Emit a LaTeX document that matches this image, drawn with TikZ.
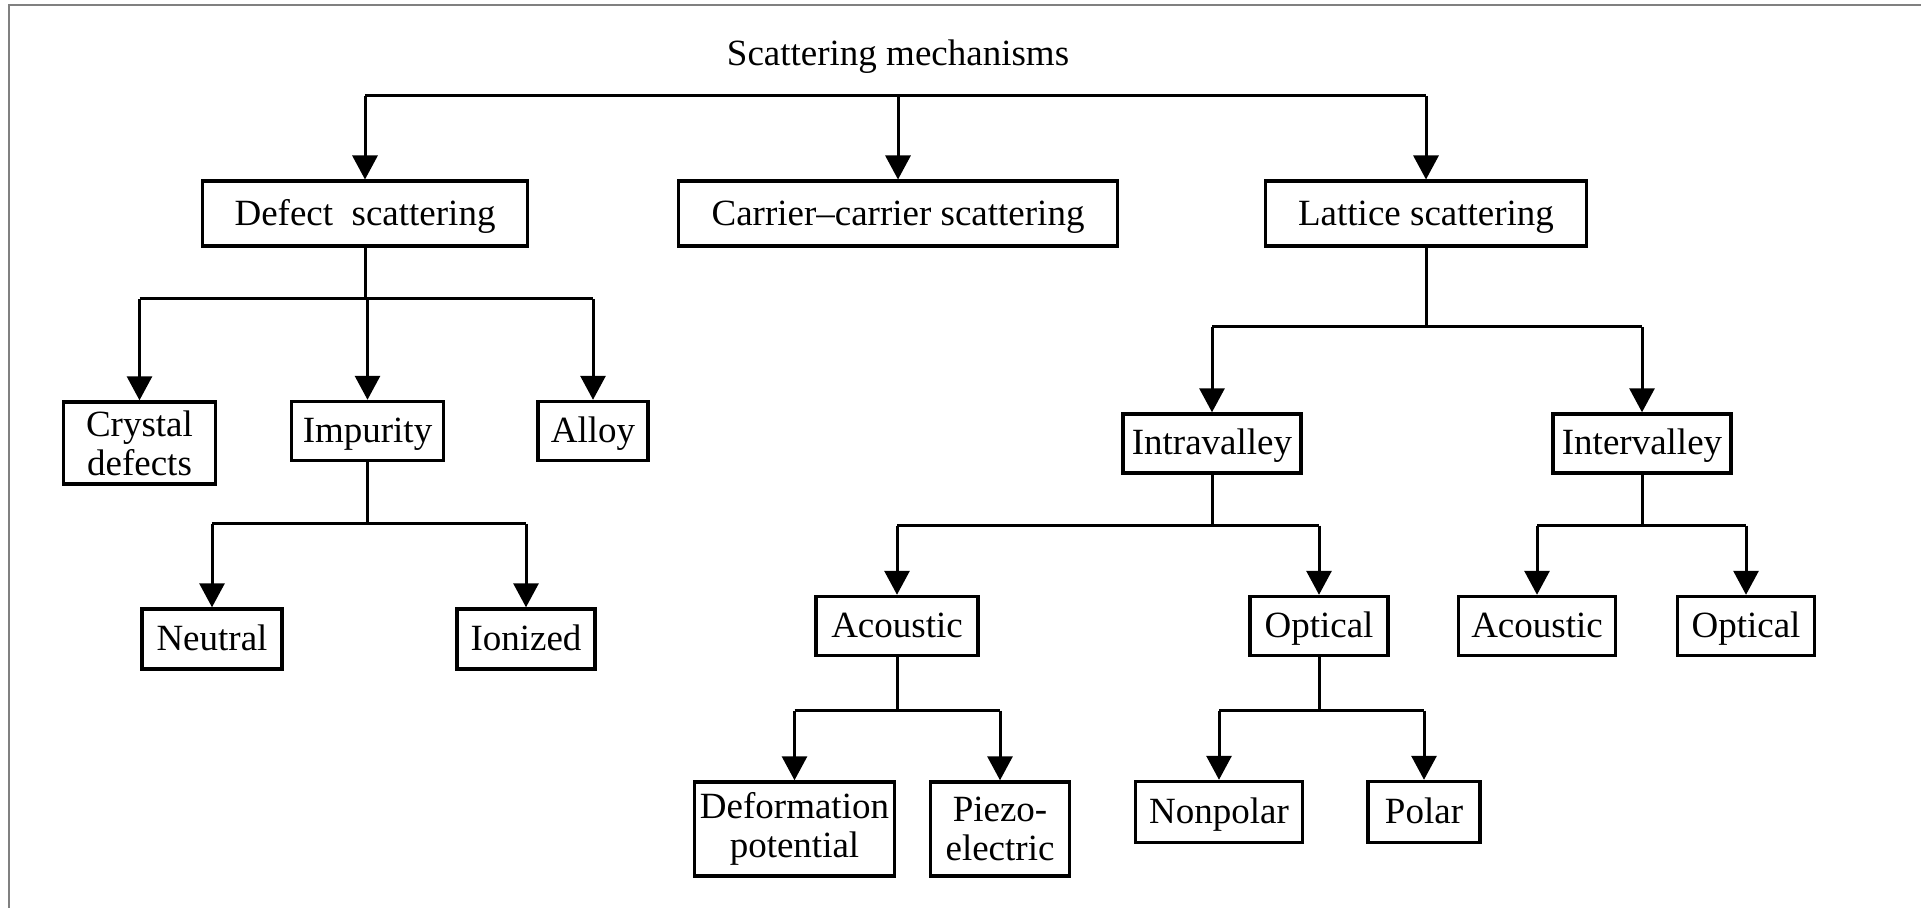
\documentclass[tikz,border=0pt]{standalone}
\usepackage{fontspec}
\setmainfont{Liberation Serif}
\usepackage{tikz}
\usetikzlibrary{arrows.meta}

\begin{document}
\begin{tikzpicture}[x=0.5pt,y=-0.5pt,
		box/.style={draw, line width=1.7pt, inner sep=0pt, align=center, minimum height=29.5pt},
		oneline/.style={box, text height=14.2pt, text depth=2.8pt},
		link/.style={line width=1.5pt},
		arr/.style={link, -{Triangle[length=12pt,width=12.5pt]}},
		font=\fontsize{18.5}{19.5}\selectfont]
			\useasboundingbox (0,0) rectangle (1921,908);
			\draw[gray, line width=1pt] (8.5,908) -- (8.5,5) -- (1921,5);
			
			% top level
			\node (title) at (898,57) {Scattering mechanisms};
			\node[oneline, minimum width=162.5pt, minimum height=32.5pt] (defect) at (365,213.7) {Defect~ scattering};
			\node[oneline, minimum width=219.5pt, minimum height=32.5pt] (carrier) at (898,213.7) {Carrier--carrier scattering};
			\node[oneline, minimum width=160.5pt, minimum height=32.5pt] (lattice) at (1426,213.7) {Lattice scattering};
			
			\draw[link] (defect.north |- 0,96) -- (lattice.north |- 0,96);
			\foreach \n in {defect,carrier,lattice}
				\draw[arr] (\n.north |- 0,96) -- (\n.north);
			
			% defect scattering
			\node[box, minimum width=76pt, minimum height=41pt] (crystal) at (139.5,443) {Crystal\\defects};
			\node[oneline, minimum width=76pt] (impurity) at (367.5,431) {Impurity};
			\node[oneline, minimum width=55pt] (alloy) at (593,431) {Alloy};
			
			\draw[link] (defect.south) -- (defect.south |- 0,299);
			\draw[link] (crystal.north |- 0,299) -- (alloy.north |- 0,299);
			\foreach \n in {crystal,impurity,alloy}
				\draw[arr] (\n.north |- 0,299) -- (\n.north);
			
			\node[oneline, minimum width=70pt, minimum height=30pt] (neutral) at (212,639) {Neutral};
			\node[oneline, minimum width=69pt, minimum height=30pt] (ionized) at (526,639) {Ionized};
			
			\draw[link] (impurity.south) -- (impurity.south |- 0,524);
			\draw[link] (neutral.north |- 0,524) -- (ionized.north |- 0,524);
			\foreach \n in {neutral,ionized}
				\draw[arr] (\n.north |- 0,524) -- (\n.north);
			
			% lattice scattering
			\node[oneline, minimum width=89pt] (intra) at (1212,443.5) {Intravalley};
			\node[oneline, minimum width=89pt] (inter) at (1642,443.5) {Intervalley};
			
			\draw[link] (lattice.south) -- (lattice.south |- 0,327);
			\draw[link] (intra.north |- 0,327) -- (inter.north |- 0,327);
			\foreach \n in {intra,inter}
				\draw[arr] (\n.north |- 0,327) -- (\n.north);
			
			\node[oneline, minimum width=81pt] (acoustic) at (897,626) {Acoustic};
			\node[oneline, minimum width=69pt] (optical) at (1319,626) {Optical};
			\node[oneline, minimum width=78.5pt] (acoustictwo) at (1537,626) {Acoustic};
			\node[oneline, minimum width=68.5pt] (opticaltwo) at (1746,626) {Optical};
			
			\draw[link] (intra.south) -- (intra.south |- 0,525.6);
			\draw[link] (acoustic.north |- 0,525.6) -- (optical.north |- 0,525.6);
			\foreach \n in {acoustic,optical}
				\draw[arr] (\n.north |- 0,525.6) -- (\n.north);
			
			\draw[link] (inter.south) -- (inter.south |- 0,525.6);
			\draw[link] (acoustictwo.north |- 0,525.6) -- (opticaltwo.north |- 0,525.6);
			\foreach \n in {acoustictwo,opticaltwo}
				\draw[arr] (\n.north |- 0,525.6) -- (\n.north);
			
			% acoustic and optical phonons
			\node[box, minimum width=100pt, minimum height=47pt] (deform) at (794.5,829) {Deformation\\potential};
			\node[box, minimum width=69.5pt, minimum height=47pt] (piezo) at (1000,829) {Piezo-\\electric};
			\node[oneline, minimum width=83.5pt, minimum height=30.5pt] (nonpolar) at (1219,812) {Nonpolar};
			\node[oneline, minimum width=56pt, minimum height=30.5pt] (polar) at (1424,812) {Polar};
			
			\draw[link] (acoustic.south) -- (acoustic.south |- 0,710.6);
			\draw[link] (deform.north |- 0,710.6) -- (piezo.north |- 0,710.6);
			\foreach \n in {deform,piezo}
				\draw[arr] (\n.north |- 0,710.6) -- (\n.north);
			
			\draw[link] (optical.south) -- (optical.south |- 0,710.6);
			\draw[link] (nonpolar.north |- 0,710.6) -- (polar.north |- 0,710.6);
			\foreach \n in {nonpolar,polar}
				\draw[arr] (\n.north |- 0,710.6) -- (\n.north);
		\end{tikzpicture}
\end{document}
